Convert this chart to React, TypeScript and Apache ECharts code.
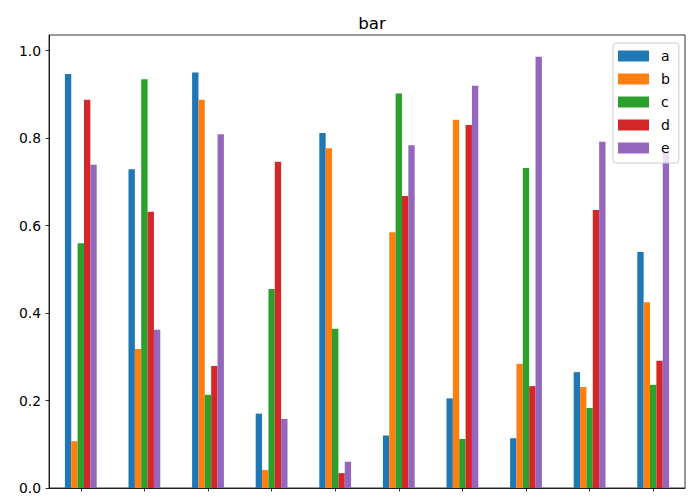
import React, { useEffect, useRef } from "react";
import * as echarts from "echarts";

const categories = ["0", "1", "2", "3", "4", "5", "6", "7", "8", "9"];
const seriesNames = ["a", "b", "c", "d", "e"];
const seriesA = [0.947, 0.729, 0.95, 0.17, 0.812, 0.12, 0.205, 0.114, 0.265, 0.54];
const seriesB = [0.107, 0.318, 0.888, 0.041, 0.777, 0.585, 0.842, 0.284, 0.231, 0.425];
const seriesC = [0.56, 0.935, 0.213, 0.455, 0.364, 0.902, 0.112, 0.732, 0.183, 0.236];
const seriesD = [0.888, 0.632, 0.279, 0.746, 0.034, 0.668, 0.83, 0.233, 0.636, 0.291];
const seriesE = [0.739, 0.362, 0.809, 0.158, 0.06, 0.784, 0.92, 0.986, 0.792, 0.768];
const colors = ["#1f77b4", "#ff7f0e", "#2ca02c", "#d62728", "#9467bd"];

export default function App() {
  const ref = useRef<HTMLDivElement>(null);
  useEffect(() => {
    if (!ref.current) return;
    const chart = echarts.init(ref.current, undefined, { renderer: "svg" });
    const values = [seriesA, seriesB, seriesC, seriesD, seriesE];
    const font = "DejaVu Sans";
    chart.setOption({
      animation: false,
      color: colors,
      title: {
        text: "bar",
        left: "367",
        textAlign: "center",
        top: 9,
        textStyle: { fontFamily: font, fontSize: 16.7, fontWeight: "normal", color: "#000" },
      },
      legend: {
        orient: "vertical",
        left: 613,
        top: 43,
        icon: "rect",
        itemWidth: 31,
        itemHeight: 11,
        itemGap: 7,
        padding: [5, 9, 7, 5],
        borderColor: "#cccccc",
        borderWidth: 1,
        borderRadius: 3,
        backgroundColor: "rgba(255,255,255,0.8)",
        textStyle: { fontFamily: font, fontSize: 14, lineHeight: 16, color: "#000", padding: [0, 0, 0, 7] },
        data: seriesNames,
      },
      grid: {
        left: 49,
        right: 10,
        top: 35,
        bottom: 12,
        show: true,
        borderColor: "#000",
        borderWidth: 0.8,
        containLabel: false,
      },
      xAxis: {
        type: "category",
        data: categories,
        boundaryGap: true,
        axisLine: { show: true, lineStyle: { color: "#000", width: 0.8 } },
        axisTick: { show: true, alignWithLabel: true, length: 3.5, lineStyle: { color: "#000", width: 0.8 } },
        axisLabel: { show: false },
        splitLine: { show: false },
      },
      yAxis: {
        type: "value",
        min: 0,
        max: 1.036,
        interval: 0.2,
        axisLine: { show: true, lineStyle: { color: "#000", width: 0.8 } },
        axisTick: { show: true, length: 3.5, lineStyle: { color: "#000", width: 0.8 } },
        axisLabel: {
          showMaxLabel: false,
          margin: 8,
          fontFamily: font,
          fontSize: 13.9,
          color: "#000",
          formatter: (v: number) => v.toFixed(1),
        },
        splitLine: { show: false },
      },
      series: seriesNames.map((name, i) => ({
        name,
        type: "bar",
        data: values[i],
        barGap: "0%",
        barCategoryGap: "50%",
        itemStyle: { color: colors[i] },
      })),
    });
    return () => chart.dispose();
  }, []);
  return (
    <div
      ref={ref}
      style={{ position: "fixed", left: 0, top: 0, width: 695, height: 500, background: "#fff" }}
    />
  );
}
